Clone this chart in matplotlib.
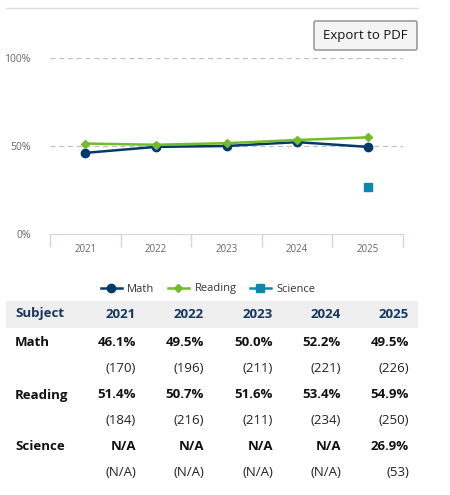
import matplotlib
matplotlib.use("Agg")
import matplotlib.pyplot as plt
from matplotlib.patches import Rectangle, FancyBboxPatch
from matplotlib.lines import Line2D
import numpy as np

plt.rcParams['font.family'] = ['Open Sans', 'DejaVu Sans']

# data
years = ["2021", "2022", "2023", "2024", "2025"]
math = [46.1, 49.5, 50.0, 52.2, 49.5]
reading = [51.4, 50.7, 51.6, 53.4, 54.9]
science = [np.nan, np.nan, np.nan, np.nan, 26.9]
math_n = ["170", "196", "211", "221", "226"]
reading_n = ["184", "216", "211", "234", "250"]
science_n = ["N/A", "N/A", "N/A", "N/A", "53"]
yticks = [0, 50, 100]

MATH_C = "#043a6b"
READ_C = "#72bb2c"
SCI_C = "#0a89aa"
W, H = 450, 495


def fx(px):
    return px / W


def fy(py):
    return 1 - py / H


fig = plt.figure(figsize=(4.5, 4.95), dpi=100)

# top separator line and export button
fig.add_artist(Line2D([fx(6), fx(418)], [fy(8), fy(8)], color="#dddddd", lw=1))
btn = FancyBboxPatch((fx(314), fy(50)), fx(103), 29 / H,
                     boxstyle="round,pad=0,rounding_size=0.004",
                     transform=fig.transFigure, facecolor="#f4f4f4",
                     edgecolor="#8a8a8a", lw=1)
fig.add_artist(btn)
fig.text(fx(365.5), fy(36), "Export to PDF", ha="center", va="center",
         fontsize=9.5, color="#111111")

# chart
ax = fig.add_axes([fx(50), fy(234), fx(403) - fx(50), fy(58) - fy(234)])
x = np.arange(len(years))
h_math, = ax.plot(x, math, color=MATH_C, lw=1.8, marker="o", ms=6, label="Math", zorder=3)
h_read, = ax.plot(x, reading, color=READ_C, lw=1.8, marker="D", ms=4.5, label="Reading", zorder=3)
h_sci, = ax.plot(x, science, color=SCI_C, lw=1.8, marker="s", ms=5.5, label="Science", zorder=3)

ax.set_xlim(-0.5, len(years) - 0.5)
ax.set_ylim(0, 100)
ax.set_yticks(yticks)
ax.set_yticklabels([f"{v}%" for v in yticks], fontsize=7.5, color="#666666")
ax.set_xticks(x)
ax.set_xticklabels(years, fontsize=7, color="#666666")
ax.set_xticks(np.arange(-0.5, len(years)), minor=True)
ax.tick_params(axis="y", length=0, pad=14)
ax.tick_params(axis="x", which="major", length=0, pad=7)
ax.tick_params(axis="x", which="minor", length=9, color="#ccd6eb", width=1)
for s in ["top", "right", "left"]:
    ax.spines[s].set_visible(False)
ax.spines["bottom"].set_color("#ccd6eb")
for v in yticks[1:]:
    ax.axhline(v, color="#c0c0c0", lw=0.9, ls=(0, (4, 3)), zorder=1)

fig.legend(handles=[h_math, h_read, h_sci], loc="center", ncol=3,
           bbox_to_anchor=(fx(208), fy(289)), frameon=False,
           fontsize=8, labelcolor="#333333", handlelength=1.9,
           columnspacing=1.2, handletextpad=0.5)

# table
fig.add_artist(Rectangle((fx(6), fy(328)), fx(412), 27 / H,
                         transform=fig.transFigure, facecolor="#efefef",
                         edgecolor="none"))
col_x = [136, 204, 273, 341, 409]
HEAD_C = "#17365d"
fig.text(fx(15), fy(314), "Subject", ha="left", va="center",
         fontsize=9.5, fontweight="bold", color=HEAD_C)
for cx, yr in zip(col_x, years):
    fig.text(fx(cx), fy(314), yr, ha="right", va="center",
             fontsize=9.5, fontweight="bold", color=HEAD_C)

rows = [("Math", math, math_n, 343), ("Reading", reading, reading_n, 395),
        ("Science", science, science_n, 447)]
for name, vals, ns, ry in rows:
    fig.text(fx(15), fy(ry), name, ha="left", va="center",
             fontsize=9.5, fontweight="bold", color="#111111")
    for cx, v, n in zip(col_x, vals, ns):
        txt = "N/A" if np.isnan(v) else f"{v:.1f}%"
        fig.text(fx(cx), fy(ry), txt, ha="right", va="center",
                 fontsize=9.5, fontweight="bold", color="#111111")
        fig.text(fx(cx), fy(ry + 25), f"({n})", ha="right", va="center",
                 fontsize=9.5, color="#222222")

fig.savefig("out.png", dpi=100)
